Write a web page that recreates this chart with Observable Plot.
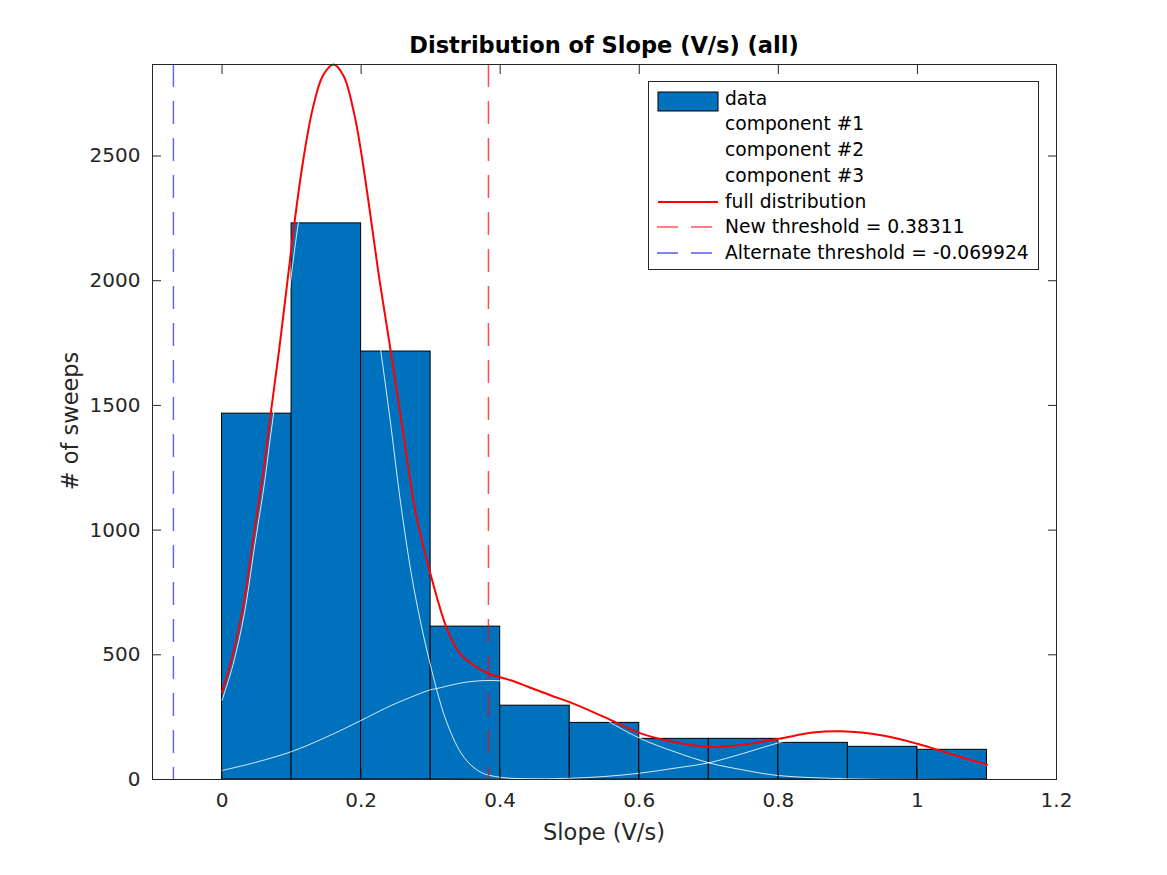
<!DOCTYPE html>
<html>
<head>
<meta charset="utf-8">
<script src="https://cdn.jsdelivr.net/npm/d3@7"></script>
<script src="https://cdn.jsdelivr.net/npm/@observablehq/plot@0.6"></script>
<style>
  body { margin: 0; background: #fff; }
  #wrap { position: relative; width: 1167px; height: 875px; font-family: "DejaVu Sans", sans-serif; overflow: hidden; }
  #chart { position: absolute; left: 0; top: 0; }
  #title { position: absolute; left: 152px; width: 904px; top: 32px; text-align: center; font-weight: bold; font-size: 22.5px; line-height: 26px; color: #000; white-space: nowrap; }
  #xlabel { position: absolute; left: 152px; width: 904px; top: 819px; text-align: center; font-size: 22.5px; line-height: 26px; color: #262626; white-space: nowrap; }
  #ylabel { position: absolute; left: 70px; top: 421px; transform: translate(-50%, -50%) rotate(-90deg); font-size: 22.5px; line-height: 26px; color: #262626; white-space: nowrap; }
  #legend { position: absolute; left: 648px; top: 81px; width: 389px; height: 187px; border: 1px solid #262626; background: #fff; }
  .row { position: absolute; left: 0; width: 389px; height: 26px; }
  .row svg { position: absolute; left: 8px; top: 0; }
  .row span { position: absolute; left: 76px; top: 0; line-height: 26px; font-size: 18.7px; color: #000; white-space: nowrap; }
</style>
</head>
<body>
<div id="wrap">
  <div id="chart"></div>
  <div id="title"></div>
  <div id="xlabel"></div>
  <div id="ylabel"></div>
  <div id="legend"></div>
</div>
<script>
// ---- data ----
const binStart = [0, 0.1, 0.2, 0.3, 0.4, 0.5, 0.6, 0.7, 0.8, 0.9, 1.0];
const binWidth = 0.1;
const counts = [1467, 2230, 1716, 613, 296, 227, 163, 163, 147, 131, 119];

const fullX = [0, 0.016, 0.032, 0.046, 0.061, 0.070, 0.082, 0.095, 0.104, 0.116, 0.13, 0.145, 0.1605, 0.175, 0.19, 0.1998, 0.212, 0.225, 0.2405, 0.26, 0.276, 0.283, 0.301, 0.324, 0.341, 0.36, 0.384, 0.415, 0.44, 0.473, 0.5, 0.55, 0.601, 0.65, 0.70, 0.75, 0.801, 0.85, 0.89, 0.95, 1.0, 1.05, 1.1];
const fullY = [350, 505, 718, 985, 1266, 1467, 1721, 2020, 2229, 2470, 2685, 2822, 2867, 2820, 2670, 2520, 2290, 2030, 1755, 1400, 1105, 1010, 811, 600, 510, 462, 424, 398, 372, 337, 310, 250, 186, 150, 130, 140, 163, 188, 193, 176, 143, 100, 59];

const comp1X = [0, 0.016, 0.032, 0.046, 0.061, 0.070, 0.082, 0.095, 0.104, 0.116, 0.13, 0.145, 0.158, 0.175, 0.19, 0.2, 0.212, 0.2285, 0.243, 0.257, 0.276, 0.301, 0.324, 0.348, 0.372, 0.4, 0.45, 0.5, 0.6, 0.8, 1.1];
const comp1Y = [317, 462, 663, 920, 1188, 1382, 1626, 1915, 2117, 2345, 2545, 2662, 2690, 2625, 2450, 2283, 2040, 1715, 1415, 1105, 765, 444, 223, 89, 29, 9, 2, 0, 0, 0, 0];

const comp2X = [0, 0.05, 0.1, 0.15, 0.2, 0.2285, 0.25, 0.3, 0.3076, 0.35, 0.3866, 0.42, 0.45, 0.5, 0.554, 0.601, 0.65, 0.7, 0.75, 0.8, 0.9, 1.0, 1.1];
const comp2Y = [36, 70, 112, 170, 237, 277, 305, 360, 364, 390, 397, 390, 372, 318, 235, 165, 112, 67, 38, 16, 3, 1, 0];

const comp3X = [0, 0.3, 0.4, 0.5, 0.55, 0.6, 0.65, 0.7, 0.75, 0.8, 0.85, 0.89, 0.95, 1.0, 1.05, 1.1];
const comp3Y = [0, 0, 1, 5, 12, 25, 45, 67, 105, 147, 180, 190, 176, 142, 100, 57];

const newThreshold = 0.38311;
const altThreshold = -0.069924;

const xTicks = [0, 0.2, 0.4, 0.6, 0.8, 1, 1.2];
const yTicks = [0, 500, 1000, 1500, 2000, 2500];

const titleText = "Distribution of Slope (V/s) (all)";
const xLabel = "Slope (V/s)";
const yLabel = "# of sweeps";
const legendLabels = ["data", "component #1", "component #2", "component #3", "full distribution",
  "New threshold = " + newThreshold, "Alternate threshold = " + altThreshold];

// ---- build tables ----
const bars = binStart.map((s, i) => ({x1: s, x2: s + binWidth, y: counts[i]}));
const pts = (xs, ys) => xs.map((x, i) => ({x, y: ys[i]}));
const full = pts(fullX, fullY);
const c1 = pts(comp1X, comp1Y);
const c2 = pts(comp2X, comp2Y);
const c3 = pts(comp3X, comp3Y);

const axisColor = "#262626";
const fmt = d => String(d);

const chart = Plot.plot({
  width: 1167,
  height: 875,
  marginLeft: 152,
  marginRight: 111,
  marginTop: 64,
  marginBottom: 96,
  style: {fontFamily: "DejaVu Sans", fontSize: "20px", color: axisColor, background: "#fff"},
  x: {domain: [-0.1, 1.2]},
  y: {domain: [0, 2867]},
  marks: [
    Plot.rectY(bars, {x1: "x1", x2: "x2", y: "y", fill: "#0072BD", stroke: "#000", strokeWidth: 1}),
    Plot.line(c1, {x: "x", y: "y", stroke: "#fff", strokeOpacity: 0.85, strokeWidth: 1, curve: "catmull-rom"}),
    Plot.line(c2, {x: "x", y: "y", stroke: "#fff", strokeOpacity: 0.85, strokeWidth: 1, curve: "catmull-rom"}),
    Plot.line(c3, {x: "x", y: "y", stroke: "#fff", strokeOpacity: 0.85, strokeWidth: 1, curve: "catmull-rom"}),
    Plot.line(full, {x: "x", y: "y", stroke: "#ff0000", strokeWidth: 2, curve: "catmull-rom"}),
    Plot.ruleX([newThreshold], {stroke: "#ff0000", strokeOpacity: 0.7, strokeWidth: 1.5, strokeDasharray: "23,14"}),
    Plot.ruleX([altThreshold], {stroke: "#0000ff", strokeOpacity: 0.6, strokeWidth: 1.5, strokeDasharray: "23,14"}),
    Plot.frame({stroke: axisColor, strokeWidth: 1}),
    Plot.axisX({anchor: "bottom", ticks: xTicks, tickFormat: fmt, tickSize: -9, tickPadding: 22, stroke: axisColor, fill: axisColor, label: null, fontSize: 20}),
    Plot.axisX({anchor: "top", ticks: xTicks, tickFormat: () => "", tickSize: -9, stroke: axisColor, label: null}),
    Plot.axisY({anchor: "left", ticks: yTicks, tickFormat: fmt, tickSize: -9, tickPadding: 21, stroke: axisColor, fill: axisColor, label: null, fontSize: 20}),
    Plot.axisY({anchor: "right", ticks: yTicks, tickFormat: () => "", tickSize: -9, stroke: axisColor, label: null})
  ]
});
document.getElementById("chart").appendChild(chart);
document.getElementById("title").textContent = titleText;
document.getElementById("xlabel").textContent = xLabel;
document.getElementById("ylabel").textContent = yLabel;

// ---- legend ----
const legend = document.getElementById("legend");
const samples = [
  '<rect x="1" y="6" width="60" height="19" fill="#0072BD" stroke="#000" stroke-width="1"/>',
  '<line x1="0" x2="62" y1="13" y2="13" stroke="#fff" stroke-width="1"/>',
  '<line x1="0" x2="62" y1="13" y2="13" stroke="#fff" stroke-width="1"/>',
  '<line x1="0" x2="62" y1="13" y2="13" stroke="#fff" stroke-width="1"/>',
  '<line x1="1" x2="61" y1="13" y2="13" stroke="#ff0000" stroke-width="2"/>',
  '<line x1="0" x2="62" y1="13" y2="13" stroke="#ff0000" stroke-width="1" stroke-dasharray="21,13"/>',
  '<line x1="0" x2="62" y1="13" y2="13" stroke="#0000ff" stroke-width="1" stroke-dasharray="21,13"/>'
];
legendLabels.forEach((lab, i) => {
  const row = document.createElement("div");
  row.className = "row";
  row.style.top = (3.5 + i * 25.75) + "px";
  row.innerHTML = '<svg width="64" height="26">' + samples[i] + '</svg>';
  const sp = document.createElement("span");
  sp.textContent = lab;
  row.appendChild(sp);
  legend.appendChild(row);
});
</script>
</body>
</html>
